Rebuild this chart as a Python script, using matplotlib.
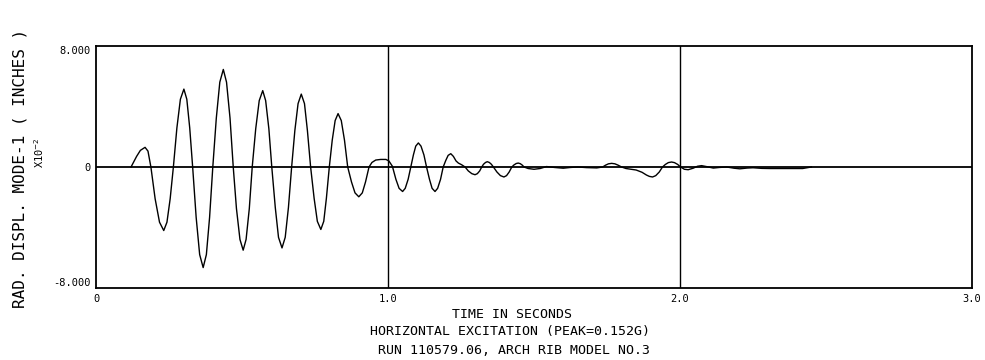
import matplotlib
matplotlib.use("Agg")
import matplotlib.pyplot as plt

# Radial displacement, mode 1 (x10^-2 inches) versus time (s)
time_s = [
    0.120, 0.139, 0.152, 0.168, 0.178, 0.188,
    0.2025, 0.2175, 0.232, 0.243, 0.254, 0.265,
    0.277, 0.289, 0.301, 0.311, 0.321, 0.331,
    0.343, 0.355, 0.367, 0.378, 0.389, 0.400,
    0.412, 0.424, 0.436, 0.447, 0.459, 0.470,
    0.481, 0.493, 0.504, 0.514, 0.525, 0.535,
    0.547, 0.559, 0.571, 0.581, 0.592, 0.602,
    0.614, 0.625, 0.637, 0.648, 0.659, 0.670,
    0.681, 0.692, 0.703, 0.714, 0.724, 0.735,
    0.747, 0.758, 0.770, 0.780, 0.789, 0.799,
    0.809, 0.819, 0.829, 0.840, 0.851, 0.862,
    0.875, 0.887, 0.900, 0.912, 0.923, 0.935,
    0.945, 0.958, 0.975, 0.993, 1.003, 1.015,
    1.027, 1.038, 1.050, 1.059, 1.069, 1.078,
    1.087, 1.095, 1.104, 1.113, 1.123, 1.132,
    1.142, 1.151, 1.161, 1.170, 1.180, 1.189,
    1.198, 1.206, 1.215, 1.224, 1.233, 1.241, 1.252, 1.264,
    1.275, 1.287, 1.298, 1.306, 1.314, 1.321,
    1.327, 1.334, 1.340, 1.347, 1.354, 1.361,
    1.373, 1.385, 1.397, 1.406, 1.415, 1.424,
    1.431, 1.439, 1.446, 1.453, 1.460, 1.466,
    1.480, 1.500, 1.521, 1.543, 1.570, 1.600, 1.625, 1.650, 1.680, 1.715, 1.735,
    1.745, 1.755, 1.766, 1.777, 1.788, 1.800,
    1.815, 1.830, 1.850, 1.870, 1.885, 1.895, 1.906, 1.917, 1.929, 1.940,
    1.950, 1.960, 1.971, 1.981, 1.992, 2.002,
    2.015, 2.028, 2.045, 2.060, 2.074, 2.090, 2.114, 2.135, 2.160, 2.185,
    2.205, 2.230, 2.250, 2.280, 2.308, 2.365, 2.420, 2.450,
]
displacement = [
    0.00, 0.70, 1.10, 1.30, 1.05, 0.00,
    -2.10, -3.65, -4.20, -3.65, -2.10, 0.00,
    2.58, 4.48, 5.15, 4.48, 2.58, 0.00,
    -3.33, -5.79, -6.65, -5.79, -3.33, 0.00,
    3.23, 5.61, 6.45, 5.61, 3.23, 0.00,
    -2.75, -4.79, -5.50, -4.79, -2.75, 0.00,
    2.53, 4.39, 5.05, 4.39, 2.53, 0.00,
    -2.68, -4.65, -5.35, -4.65, -2.68, 0.00,
    2.41, 4.19, 4.82, 4.19, 2.41, 0.00,
    -2.07, -3.59, -4.13, -3.59, -2.07, 0.00,
    1.77, 3.07, 3.53, 3.07, 1.77, 0.00,
    -0.99, -1.71, -1.97, -1.71, -0.99, 0.00,
    0.30, 0.46, 0.50, 0.50, 0.40, 0.05,
    -0.81, -1.41, -1.62, -1.41, -0.81, 0.00,
    0.80, 1.38, 1.59, 1.38, 0.80, 0.00,
    -0.81, -1.41, -1.62, -1.41, -0.81, 0.00,
    0.44, 0.77, 0.88, 0.70, 0.40, 0.26, 0.15, 0.00,
    -0.26, -0.44, -0.51, -0.44, -0.26, 0.00,
    0.18, 0.30, 0.35, 0.30, 0.18, 0.00,
    -0.33, -0.57, -0.66, -0.57, -0.33, 0.00,
    0.13, 0.23, 0.26, 0.22, 0.12, 0.00,
    -0.10, -0.15, -0.10, 0.03, -0.03, -0.08, -0.03, 0.00, -0.04, -0.06, 0.00,
    0.12, 0.21, 0.24, 0.21, 0.12, 0.00,
    -0.10, -0.14, -0.20, -0.35, -0.53, -0.62, -0.66, -0.57, -0.33, 0.00,
    0.17, 0.29, 0.33, 0.29, 0.17, 0.00,
    -0.15, -0.18, -0.08, 0.05, 0.09, 0.03, -0.07, -0.03, 0.00, -0.08,
    -0.12, -0.07, -0.05, -0.09, -0.10, -0.10, -0.10, 0.00,
]

x_ticks = [0.0, 1.0, 2.0, 3.0]
x_tick_labels = ["0", "1.0", "2.0", "3.0"]
y_ticks = [-8.0, 0.0, 8.0]
y_tick_labels = ["-8.000", "0", "8.000"]

MONO = "DejaVu Sans Mono"
W, H = 985, 360

fig = plt.figure(figsize=(W / 100, H / 100), dpi=100)
fig.patch.set_facecolor("white")
ax = fig.add_axes([96 / W, 1 - 288 / H, (972 - 96) / W, (288 - 46) / H])

ax.set_xlim(0, 3.0)
ax.set_ylim(-8.0, 8.0)

# reference lines: zero axis and one-second grid lines
ax.axhline(0.0, color="black", lw=1.3, zorder=1)
for gx in (1.0, 2.0):
    ax.axvline(gx, color="black", lw=1.0, zorder=1)

ax.plot(time_s, displacement, color="black", lw=1.0, zorder=2,
        solid_joinstyle="round")

for sp in ax.spines.values():
    sp.set_linewidth(1.3)
    sp.set_color("black")

ax.set_xticks(x_ticks)
ax.set_xticklabels(x_tick_labels, family=MONO, fontsize=7.5)
ax.set_yticks(y_ticks)
ax.set_yticklabels(y_tick_labels, family=MONO, fontsize=7.5)
ax.tick_params(axis="both", length=0)
ax.tick_params(axis="x", pad=4)
ax.tick_params(axis="y", pad=4)
ax.get_yticklabels()[-1].set_va("top")
ax.get_yticklabels()[0].set_va("bottom")

# axis titles in plotter lettering
fig.text(20 / W, 1 - 168 / H, "RAD. DISPL. MODE-1 ( INCHES )", family=MONO,
         fontsize=11.5, rotation=90, ha="center", va="center")
fig.text(39 / W, 1 - 153 / H, r"X10$^{-2}$", family=MONO, fontsize=7.5,
         rotation=90, ha="center", va="center")

caption = [
    ("TIME IN SECONDS", 512, 314),
    ("HORIZONTAL EXCITATION (PEAK=0.152G)", 510, 332),
    ("RUN 110579.06, ARCH RIB MODEL NO.3", 514, 350),
]
for text, cx, cy in caption:
    fig.text(cx / W, 1 - cy / H, text, family=MONO, fontsize=9.5,
             ha="center", va="center")

fig.savefig("out.png", dpi=100, facecolor="white")
